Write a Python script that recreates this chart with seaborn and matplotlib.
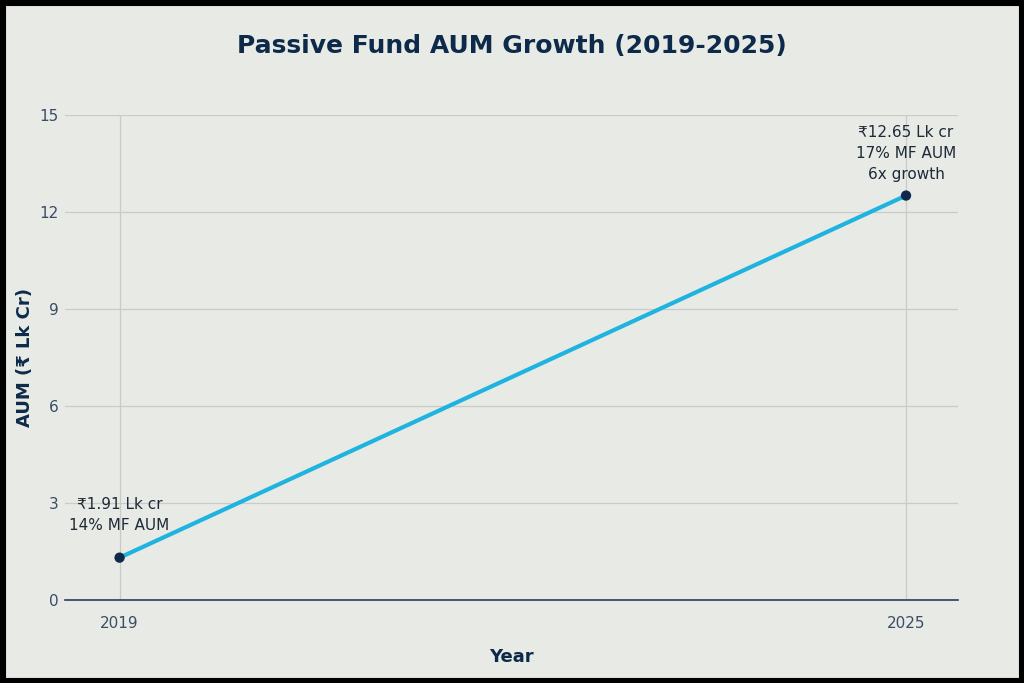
import matplotlib
matplotlib.use("Agg")
import matplotlib.pyplot as plt
import seaborn as sns
import pandas as pd
from matplotlib.patches import Rectangle

years = [2019, 2025]
aum = [1.3, 12.5]
labels = ["₹1.91 Lk cr\n14% MF AUM", "₹12.65 Lk cr\n17% MF AUM\n6x growth"]
yticks = [0, 3, 6, 9, 12, 15]

sns.set_theme(style="whitegrid")
plt.rcParams['font.family'] = ['DejaVu Sans']
bg = "#e8eae5"
fig = plt.figure(figsize=(10.24, 6.83), dpi=100, facecolor=bg)
ax = fig.add_axes([0.063, 0.122, 0.873, 0.71], facecolor=bg)
df = pd.DataFrame({"Year": years, "AUM": aum})
sns.lineplot(data=df, x="Year", y="AUM", ax=ax, color="#1fb4e0", linewidth=3)
sns.scatterplot(data=df, x="Year", y="AUM", ax=ax, color="#0d2a4a", s=55, zorder=5, edgecolor="none")
ax.set_xlim(2018.58, 2025.4)
ax.set_ylim(0, 15)
ax.set_yticks(yticks)
ax.set_xticks(years)
ax.grid(color="#c9ccc6", linewidth=0.9)
for s in ["top", "right", "left"]:
    ax.spines[s].set_visible(False)
ax.spines["bottom"].set_color("#2a3f5a")
ax.spines["bottom"].set_linewidth(1.2)
ax.tick_params(axis="x", colors="#3a4d66", labelsize=11, length=0, pad=12)
ax.tick_params(axis="y", colors="#3a4d66", labelsize=11, length=0, pad=4)
ax.set_xlabel("Year", fontsize=13, fontweight="bold", color="#0d2a4a", labelpad=12)
ax.set_ylabel("AUM (₹ Lk Cr)", fontsize=13, fontweight="bold", color="#0d2a4a", labelpad=4)
ax.annotate(labels[0], (years[0], aum[0]), xytext=(0, 18), textcoords="offset points",
            ha="center", va="bottom", fontsize=11, color="#1e2a38", linespacing=1.5)
ax.annotate(labels[1], (years[1], aum[1]), xytext=(0, 10), textcoords="offset points",
            ha="center", va="bottom", fontsize=11, color="#1e2a38", linespacing=1.5)
fig.text(0.5, 0.932, "Passive Fund AUM Growth (2019-2025)", ha="center", va="center",
         fontsize=18, fontweight="bold", color="#0d2a4a")
fig.patches.append(Rectangle((0, 0), 1, 1, transform=fig.transFigure, fill=False,
                             edgecolor="black", linewidth=8))
fig.savefig("out.png", dpi=100, facecolor=bg)
